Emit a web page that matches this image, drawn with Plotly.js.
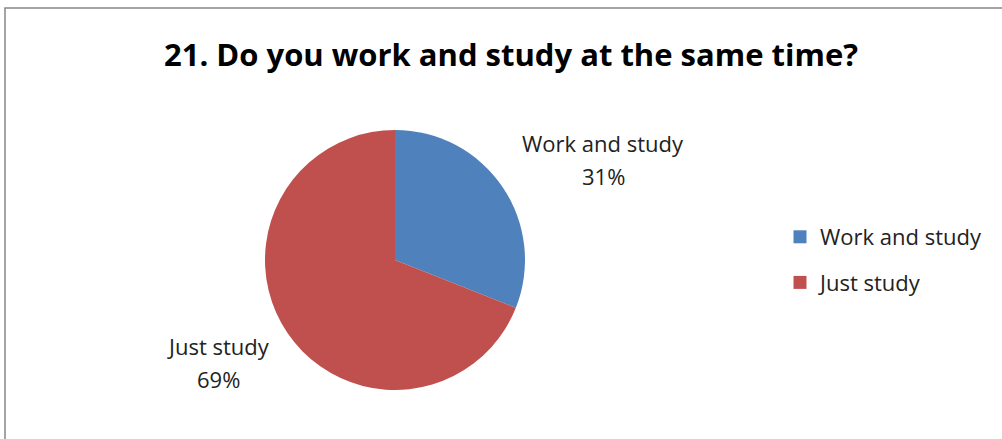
<!DOCTYPE html>
<html><head><meta charset="utf-8">
<script src="https://cdn.plot.ly/plotly-3.0.1.min.js"></script>
<style>html,body{margin:0;padding:0;background:#fff}#chart{width:1002px;height:439px}</style>
</head><body><div id="chart"></div>
<script>
var categories = ["Work and study", "Just study"];
var values = [31, 69];
var colors = ["#4F81BD", "#C0504D"];
var titleText = "21. Do you work and study at the same time?";

var W = 1002, H = 439;
var fontFam = "Open Sans, Liberation Sans, sans-serif";

var traces = [{
  type: "pie",
  labels: categories,
  values: values,
  sort: false,
  direction: "clockwise",
  rotation: 0,
  marker: {colors: colors, line: {width: 0}},
  textinfo: "none",
  hoverinfo: "label+percent",
  showlegend: false,
  domain: {x: [265/W, 525/W], y: [1-390/H, 1-130/H]}
}];
categories.forEach(function(c, i){
  traces.push({
    type: "scatter", mode: "markers", x: [null], y: [null], name: c,
    legendgroup: "g" + i,
    marker: {symbol: "square", size: 13, color: colors[i]},
    xaxis: "x", yaxis: "y"
  });
});

var total = values.reduce(function(a,b){return a+b;}, 0);
var labelPos = [[603, 143, 176], [218, 346, 379]];
var annotations = [];
categories.forEach(function(c, i){
  var lines = [c, Math.round(values[i]/total*100) + "%"];
  lines.forEach(function(t, j){
    annotations.push({
      xref: "paper", yref: "paper",
      x: labelPos[i][0]/W, y: 1 - labelPos[i][1+j]/H,
      xanchor: "center", yanchor: "middle",
      text: t, showarrow: false,
      font: {family: fontFam, size: 22, color: "#222"}
    });
  });
});

var layout = {
  width: W, height: H,
  margin: {l: 0, r: 0, t: 0, b: 0},
  paper_bgcolor: "#fff", plot_bgcolor: "#fff",
  title: {text: "<b>" + titleText + "</b>", x: 511/W, xanchor: "center", y: 1 - 55/H, yanchor: "middle",
          font: {family: fontFam, size: 31, color: "#000"}},
  xaxis: {visible: false, domain: [0.9, 0.95]},
  yaxis: {visible: false, domain: [0.9, 0.95]},
  showlegend: true,
  legend: {x: 780/W, y: 1 - 216/H, xanchor: "left", yanchor: "top",
           font: {family: fontFam, size: 22, color: "#222"},
           tracegroupgap: 14, bgcolor: "rgba(0,0,0,0)", itemclick: false},
  annotations: annotations,
  shapes: [{type: "rect", xref: "paper", yref: "paper",
            x0: 5/W, x1: 1.05, y0: -0.05, y1: 1 - 8/H,
            line: {color: "#868686", width: 1.5}, fillcolor: "rgba(0,0,0,0)", layer: "below"}]
};

Plotly.newPlot("chart", traces, layout, {displayModeBar: false, staticPlot: true});
</script>
</body></html>
